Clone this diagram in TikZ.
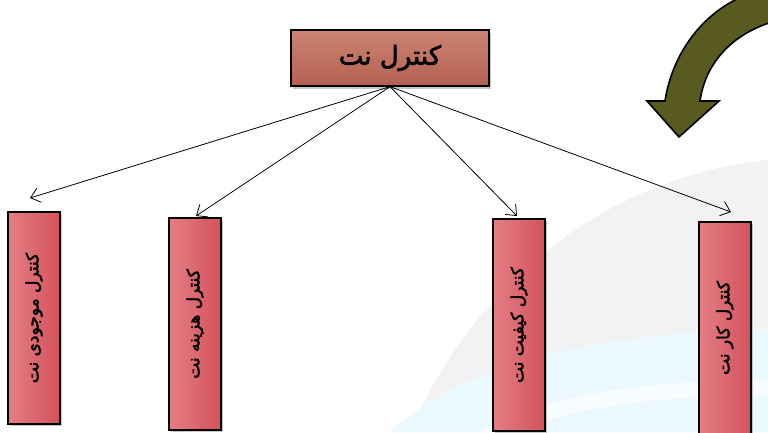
\documentclass[tikz,border=0pt]{standalone}
\usepackage{fontspec}
\newfontfamily\arabicfont[Script=Arabic, FakeBold=2.5]{DejaVu Sans}
\TeXXeTstate=1
\usetikzlibrary{shadows,arrows.meta}
\definecolor{topT}{RGB}{202,132,116}
\definecolor{topB}{RGB}{182,96,80}
\definecolor{pinkL}{RGB}{228,126,132}
\definecolor{pinkR}{RGB}{212,82,92}
\definecolor{olivearrow}{RGB}{88,90,32}
\tikzset{
  topbox/.style={draw=black, line width=1.3pt, top color=topT, bottom color=topB,
    minimum width=198pt, minimum height=56pt, inner sep=0pt,
    font=\arabicfont\fontsize{26}{30}\selectfont,
    drop shadow={opacity=0.45, shadow xshift=2pt, shadow yshift=-3pt}},
  vbox/.style={draw=black, line width=1.3pt, left color=pinkL, right color=pinkR,
    minimum width=52pt, minimum height=212pt, inner sep=0pt,
    drop shadow={opacity=0.45, shadow xshift=2pt, shadow yshift=-2pt}},
  vlabel/.style={rotate=90, inner sep=0pt, font=\arabicfont\fontsize{17}{20}\selectfont},
  conn/.style={line width=0.8pt, -{Straight Barb[length=9pt,width=15pt]}},
  bigarrow/.style={fill=olivearrow, draw=black, line width=1.6pt, line join=miter}
}
\begin{document}
\begin{tikzpicture}[x=1pt,y=-1pt]
\useasboundingbox (0,0) rectangle (768,432);
% faint background swirl
\fill[black!5] (410,432) .. controls (480,270) and (620,175) .. (768,160) -- (768,330) .. controls (640,325) and (520,360) .. (470,432) -- cycle;
\fill[cyan!8] (390,432) .. controls (460,365) and (600,330) .. (768,330) -- (768,432) -- cycle;
\fill[white, opacity=0.6] (480,432) .. controls (540,395) and (650,380) .. (768,380) -- (768,395) .. controls (650,395) and (560,410) .. (520,432) -- cycle;
% curved olive arrow
\path[bigarrow] (735,0) .. controls (700,18) and (672,55) .. (665,101) -- (647,101) -- (679,137) -- (719,101) -- (700,101) .. controls (705,65) and (730,35) .. (772,22) -- (772,-6) -- (735,-6) -- cycle;
% nodes
\node[topbox] (top) at (390,58) {\beginR کنترل نت\endR};
\node[vbox] (b1) at (34,318) {};
\node[vbox] (b2) at (195,324) {};
\node[vbox] (b3) at (519,325) {};
\node[vbox] (b4) at (725,328) {};
\node[vlabel] (t1) at (b1.center) {\beginR کنترل موجودی نت\endR};
\node[vlabel] (t2) at (b2.center) {\beginR کنترل هزینه نت\endR};
\node[vlabel] (t3) at (b3.center) {\beginR کنترل کیفیت نت\endR};
\node[vlabel] (t4) at (b4.center) {\beginR کنترل کار نت\endR};
% arrow tips
\coordinate (a1) at (30,198);
\coordinate (a2) at (196,216);
\coordinate (a3) at (517,216);
\coordinate (a4) at (731,212);
\draw[conn] (top.south) -- (a1);
\draw[conn] (top.south) -- (a2);
\draw[conn] (top.south) -- (a3);
\draw[conn] (top.south) -- (a4);
\end{tikzpicture}
\end{document}
